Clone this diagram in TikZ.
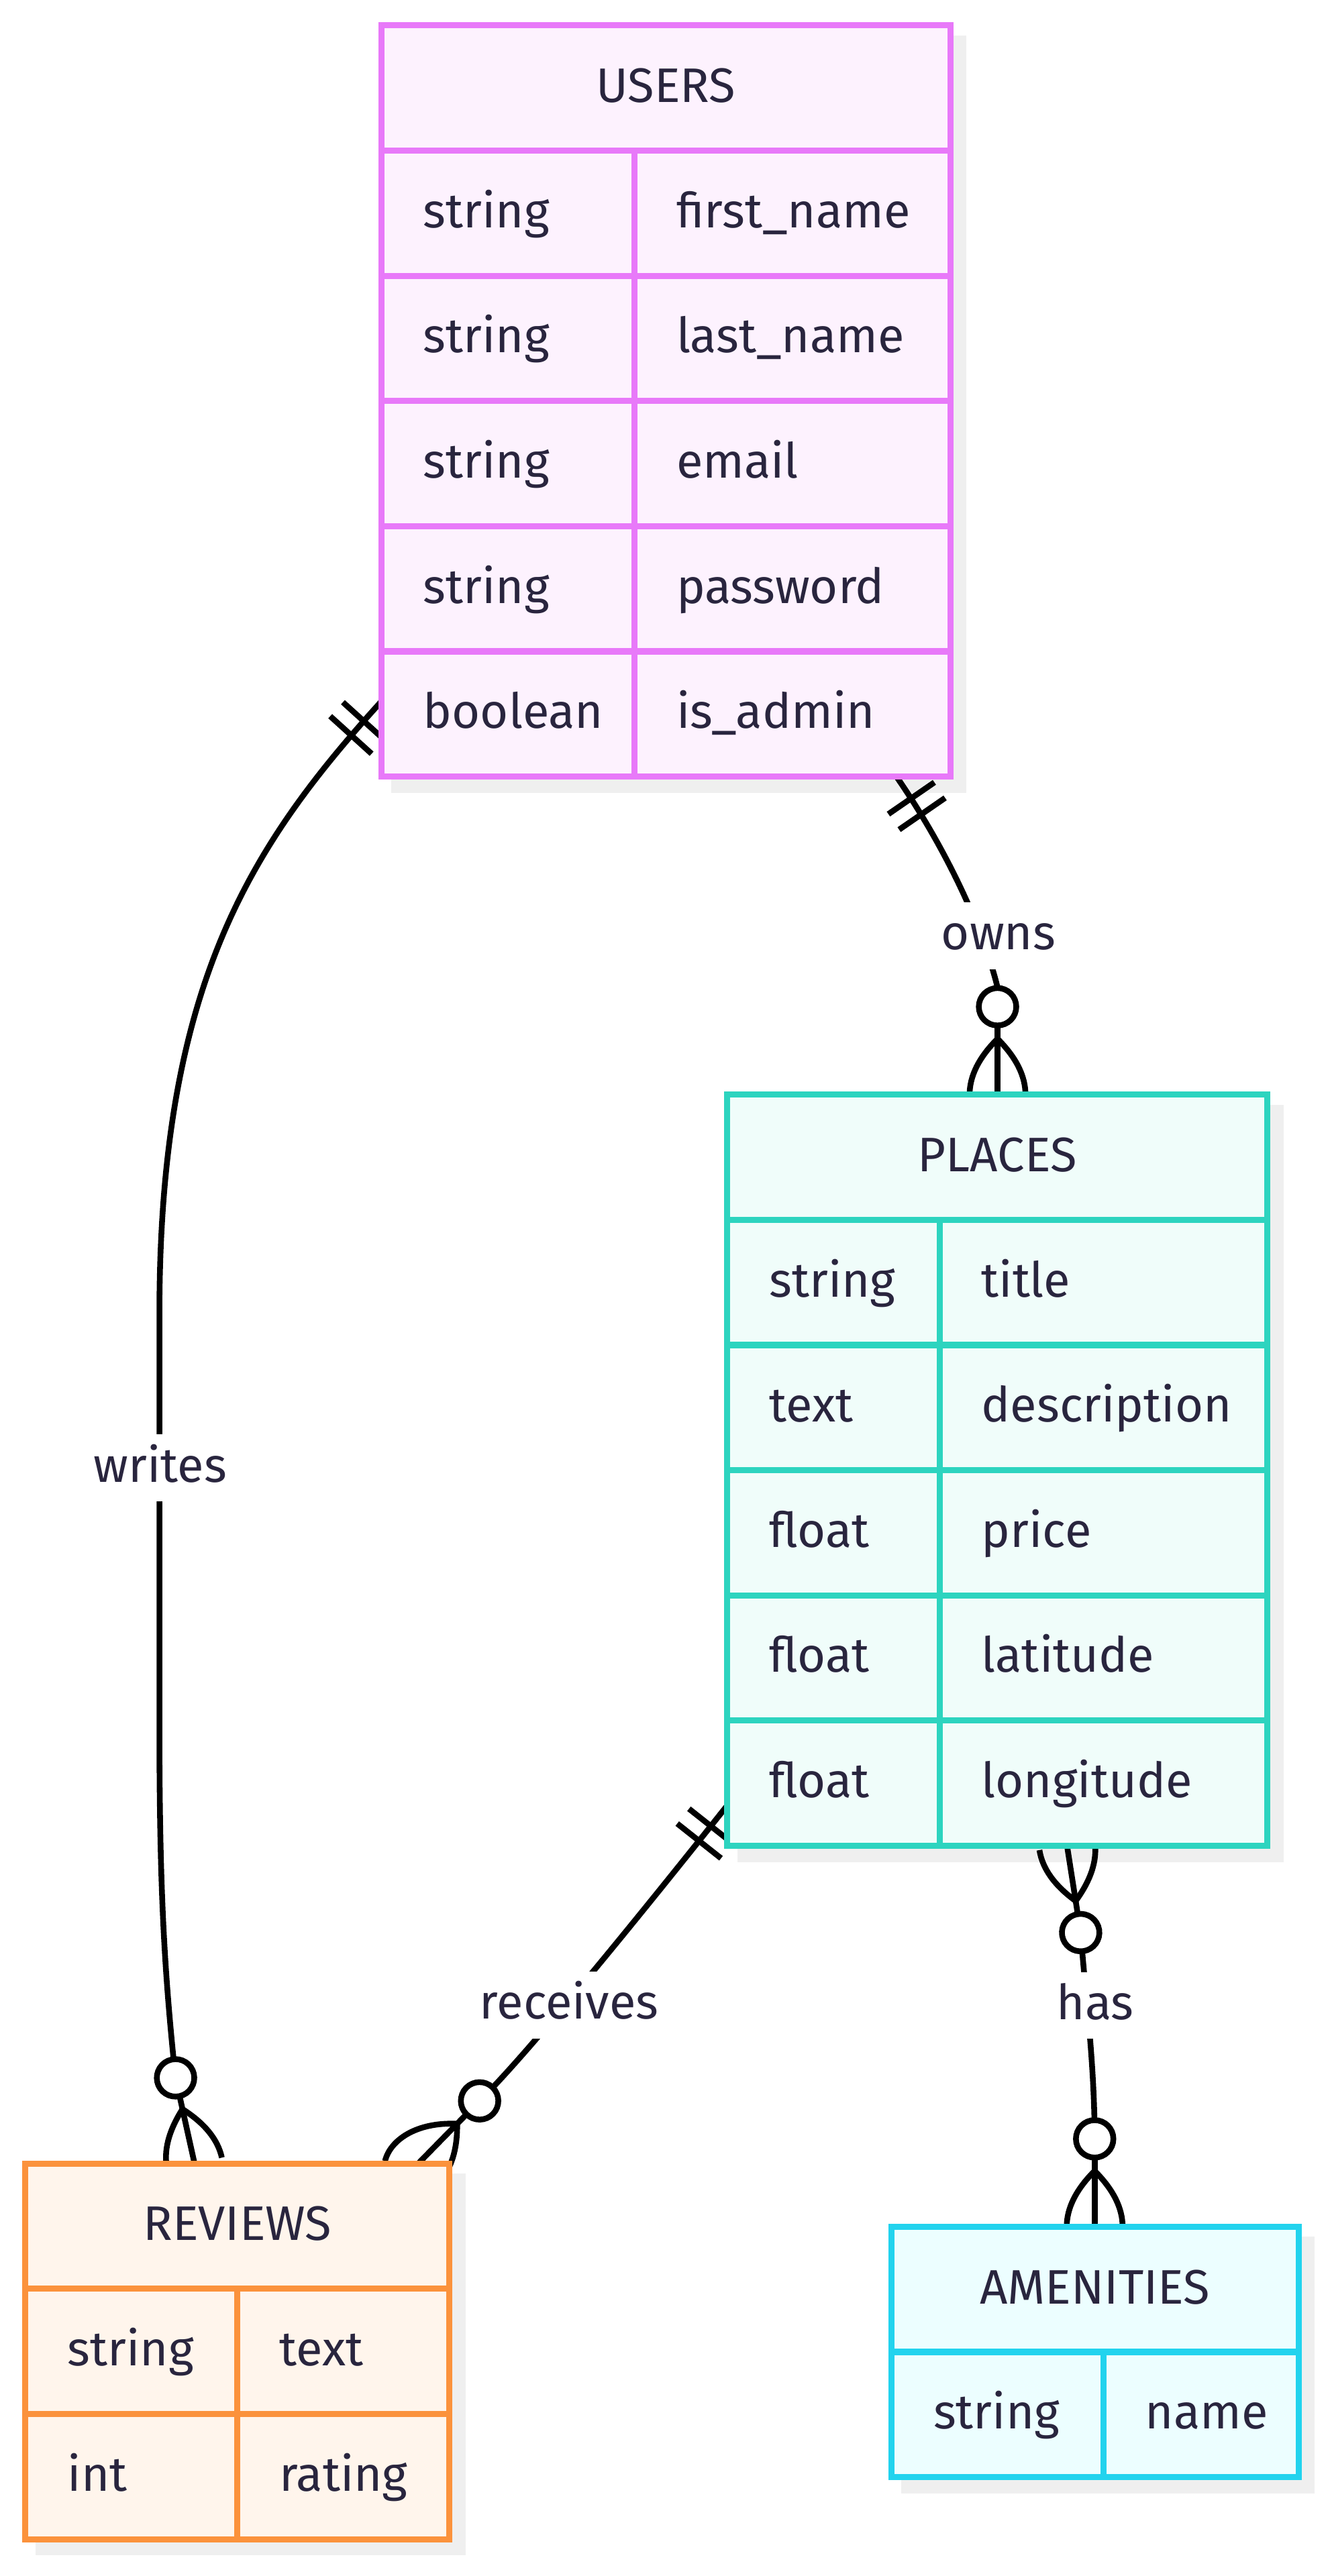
\documentclass[tikz,border=0pt]{standalone}
\usepackage{fontspec}
\setmainfont{Fira Sans}
\usetikzlibrary{calc}
\pgfdeclarelayer{bglayer}
\pgfdeclarelayer{edgelayer}
\pgfsetlayers{bglayer,edgelayer,main}

\definecolor{ink}{HTML}{29253E}
\definecolor{usersc}{HTML}{E879F9}\definecolor{usersf}{HTML}{FDF2FE}
\definecolor{placesc}{HTML}{2DD4BF}\definecolor{placesf}{HTML}{F0FDFA}
\definecolor{reviewsc}{HTML}{FB923C}\definecolor{reviewsf}{HTML}{FFF5EC}
\definecolor{amenc}{HTML}{22D3EE}\definecolor{amenf}{HTML}{ECFEFF}
\definecolor{shadowc}{HTML}{EFEFEF}

\newcommand\tabfont{\fontsize{29.5}{35}\selectfont}

\tikzset{
  tbl/.style 2 args={rectangle, draw=#1, fill=#2, line width=3.7pt, inner sep=0pt, outer sep=0pt, anchor=north west},
  tline/.style={line width=3.7pt},
  cell/.style={anchor=base west, inner sep=0pt, text=ink, font=\tabfont},
  head/.style={anchor=base, inner sep=0pt, text=ink, font=\tabfont},
  lbl/.style={fill=white, text=ink, font=\tabfont, inner xsep=4pt, inner ysep=0pt, text height=28.85pt, text depth=11.85pt},
  conn/.style={line width=3.5pt, draw=black},
  pics/zmany/.style={code={
     \draw[conn] (34,0) -- (0,0);
     \draw[conn] (34,0) .. controls (22.67,11.33) and (11.33,17) .. (0,17);
     \draw[conn] (34,0) .. controls (22.67,-11.33) and (11.33,-17) .. (0,-17);
     \draw[conn] (34,0) -- (53.5,0);
     \draw[conn, fill=white] (53.5,0) circle[radius=11.4];
  }},
  pics/zmanywide/.style={code={
     \draw[conn] (34,0) -- (0,0);
     \draw[conn] (34,0) .. controls (22.67,11.33) and (11.33,17) .. (0,17);
     \draw[conn] (34,0) .. controls (17,-19) and (-2,-22) .. (-12.9,-15.5);
     \draw[conn] (34,0) -- (53.5,0);
     \draw[conn, fill=white] (53.5,0) circle[radius=11.4];
  }},
  pics/oneonly/.style={code={
     \draw[conn] (16,-17) -- (16,17);
     \draw[conn] (27.5,-17) -- (27.5,17);
  }},
}

\newcommand\ERrow[5]{%
  \node[cell] (#1-t#2) at ($(#1.north west)+(25.4,{76.2*#2+46.8})$) {#4};
  \node[cell] (#1-n#2) at ($(#1.north west)+({#3+25.4},{76.2*#2+46.8})$) {#5};
}
\newcommand\ERlines[4]{% table, colour, rows, divider
  \foreach \i in {1,...,#3}
    \draw[#2, tline] ($(#1.north west)+(0,76.2*\i)$) -- ($(#1.north east)+(0,76.2*\i)$);
  \draw[#2, tline] ($(#1.north west)+(#4,76.2)$) -- ($(#1.south west)+(#4,0)$);
}

\begin{document}
\begin{tikzpicture}[x=1pt,y=-1pt]
\useasboundingbox (0,0) rectangle (809,1568);

% ---------- tables ----------
\node[tbl={usersc}{usersf}, minimum width=346.3pt, minimum height=457.2pt] (users) at (232,15.5) {};
\node[tbl={placesc}{placesf}, minimum width=328.7pt, minimum height=457.2pt] (places) at (442.5,666.3) {};
\node[tbl={reviewsc}{reviewsf}, minimum width=258pt, minimum height=228.6pt] (reviews) at (15.5,1317) {};
\node[tbl={amenc}{amenf}, minimum width=247.8pt, minimum height=152.4pt] (amenities) at (542.4,1355.4) {};

\ERlines{users}{usersc}{5}{154}
\ERlines{places}{placesc}{5}{129.2}
\ERlines{reviews}{reviewsc}{2}{128.9}
\ERlines{amenities}{amenc}{1}{129}

\node[head] (users-h) at ($(users.north)+(0,46.8)$) {USERS};
\ERrow{users}{1}{154}{string}{first\_name}
\ERrow{users}{2}{154}{string}{last\_name}
\ERrow{users}{3}{154}{string}{email}
\ERrow{users}{4}{154}{string}{password}
\ERrow{users}{5}{154}{boolean}{is\_admin}

\node[head] (places-h) at ($(places.north)+(0,46.8)$) {PLACES};
\ERrow{places}{1}{129.2}{string}{title}
\ERrow{places}{2}{129.2}{text}{description}
\ERrow{places}{3}{129.2}{float}{price}
\ERrow{places}{4}{129.2}{float}{latitude}
\ERrow{places}{5}{129.2}{float}{longitude}

\node[head] (reviews-h) at ($(reviews.north)+(0,46.8)$) {REVIEWS};
\ERrow{reviews}{1}{128.9}{string}{text}
\ERrow{reviews}{2}{128.9}{int}{rating}

\node[head] (amenities-h) at ($(amenities.north)+(0,46.8)$) {AMENITIES};
\ERrow{amenities}{1}{129}{string}{name}

% ---------- shadows ----------
\begin{pgfonlayer}{bglayer}
  \fill[white] (0,0) rectangle (809,1568);
  \foreach \t in {users,places,reviews,amenities}
    \fill[shadowc] ($(\t.north west)+(6.15,6.15)$) rectangle ($(\t.south east)+(9.85,9.85)$);
\end{pgfonlayer}

% ---------- connector end points ----------
\coordinate (wU) at ($(users.north west)+(0,411.5)$);
\coordinate (oU) at ($(users.south west)+(313.5,0)$);
\coordinate (oP) at ($(places.north west)+(164.5,0)$);
\coordinate (rP) at ($(places.north west)+(0,432.7)$);
\coordinate (hP) at ($(places.south west)+(206.8,0)$);
\coordinate (wR) at ($(reviews.north west)+(102.9,0)$);
\coordinate (rR) at ($(reviews.north west)+(238.9,0)$);
\coordinate (hA) at ($(amenities.north west)+(123.7,0)$);
% circle centres of the zero-or-many markers
\coordinate (oPc) at ($(oP)+(0,-53.5)$);
\coordinate (wRc) at ($(wR)+(-11.6,-52.2)$);
\coordinate (rRc) at ($(rR)+(37.4,-38.2)$);
\coordinate (hPc) at ($(hP)+(8.3,52.9)$);
\coordinate (hAc) at ($(hA)+(0,-53.5)$);

% ---------- connectors ----------
\begin{pgfonlayer}{edgelayer}
  \draw[conn] (wU) .. controls ($(wU)+(-79.7,88)$) and (97,600) .. (97,800)
              -- (97,1050) .. controls (97,1150) and (100,1200) .. (wRc);
  \draw[conn] (oU) .. controls ($(oU)+(28.4,41.2)$) and (597.4,562.2) .. (607,601) -- (oPc);
  \draw[conn] (rP) .. controls ($(rP)+(-37.3,47)$) and (324,1247.4) .. (rRc);
  \draw[conn] (hPc) .. controls (660.5,1215) and (666,1255) .. (hAc);

  \pic[rotate=-132.2] at (wU) {oneonly};
  \pic[rotate=-55.4] at (oU) {oneonly};
  \pic[rotate=-128.4] at (rP) {oneonly};
  \pic[rotate=90] at (oP) {zmany};
  \pic[rotate=102.5] at (wR) {zmany};
  \pic[rotate=45.6] at (rR) {zmanywide};
  \pic[rotate=-81.1] at (hP) {zmany};
  \pic[rotate=90] at (hA) {zmany};
\end{pgfonlayer}

% ---------- relationship labels ----------
\node[lbl] (l-writes) at (97.5,893.5) {writes};
\node[lbl] (l-owns) at (607.6,569.5) {owns};
\node[lbl] (l-receives) at (346.3,1220.4) {receives};
\node[lbl] (l-has) at (666.4,1220.7) {has};
\end{tikzpicture}
\end{document}
